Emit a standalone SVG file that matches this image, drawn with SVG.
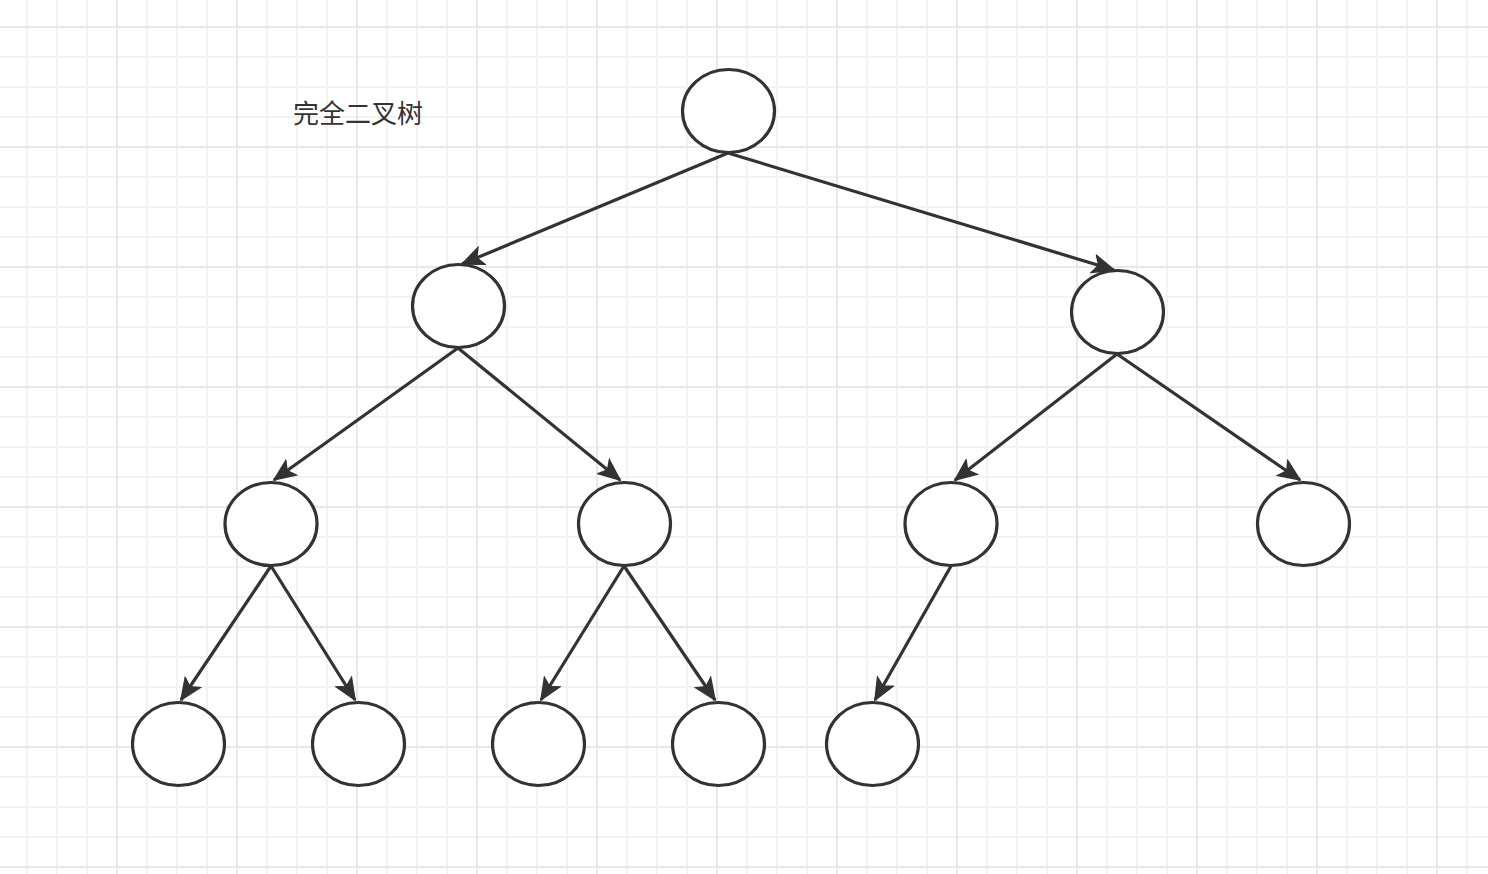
<svg xmlns="http://www.w3.org/2000/svg" width="1488" height="874" viewBox="0 0 1488 874">
<defs>
<pattern id="minor" x="26" y="26" width="30" height="30" patternUnits="userSpaceOnUse">
<path d="M1 0V30M0 1H30" stroke="#f2f2f2" stroke-width="2" fill="none"/>
</pattern>
<pattern id="major" x="116" y="26" width="120" height="120" patternUnits="userSpaceOnUse">
<path d="M1 0V120M0 1H120" stroke="#e8e8e8" stroke-width="2" fill="none"/>
</pattern>
<marker id="arr" markerUnits="userSpaceOnUse" markerWidth="26" markerHeight="26" viewBox="0 0 26 26" refX="22" refY="13" orient="auto">
<path d="M1 4 L22 13 L1 22 L6 13 Z" fill="#333" stroke="#333" stroke-width="1.5" stroke-linejoin="miter"/>
</marker>
</defs>
<style>
.n{fill:#fff;stroke:#333;stroke-width:3.2}
.e{stroke:#333;stroke-width:3.2;fill:none;marker-end:url(#arr)}
.t{font-family:"Liberation Sans","Noto Sans CJK SC",sans-serif;font-size:26px;fill:#333}
</style>
<rect width="1488" height="874" fill="#fff"/>
<rect width="1488" height="874" fill="url(#minor)"/>
<rect width="1488" height="874" fill="url(#major)"/>
<g id="connectors">
<path class="e" d="M728 153 L462 264"/>
<path class="e" d="M728 153 L1114 270"/>
<path class="e" d="M458 348 L274 480"/>
<path class="e" d="M458 348 L620 480"/>
<path class="e" d="M1117 354 L955 480"/>
<path class="e" d="M1117 354 L1300 480"/>
<path class="e" d="M271 566 L181 700"/>
<path class="e" d="M271 566 L355 700"/>
<path class="e" d="M624 566 L541 700"/>
<path class="e" d="M624 566 L715 700"/>
<path class="e" d="M951 566 L875 700"/>
</g>
<g id="label"><text class="t" x="293" y="123">完全二叉树</text></g>
<g id="n0"><ellipse class="n" cx="728.5" cy="111" rx="46" ry="41.5"/></g>
<g id="n1"><ellipse class="n" cx="458.5" cy="306" rx="46" ry="41.5"/></g>
<g id="n2"><ellipse class="n" cx="1117.5" cy="312" rx="46" ry="41.5"/></g>
<g id="n3"><ellipse class="n" cx="271" cy="524" rx="46" ry="41.5"/></g>
<g id="n4"><ellipse class="n" cx="624.5" cy="524" rx="46" ry="41.5"/></g>
<g id="n5"><ellipse class="n" cx="951" cy="524" rx="46" ry="41.5"/></g>
<g id="n6"><ellipse class="n" cx="1303.5" cy="524" rx="46" ry="41.5"/></g>
<g id="n7"><ellipse class="n" cx="178.5" cy="744" rx="46" ry="41.5"/></g>
<g id="n8"><ellipse class="n" cx="358.5" cy="744" rx="46" ry="41.5"/></g>
<g id="n9"><ellipse class="n" cx="538.5" cy="744" rx="46" ry="41.5"/></g>
<g id="n10"><ellipse class="n" cx="718.5" cy="744" rx="46" ry="41.5"/></g>
<g id="n11"><ellipse class="n" cx="872.5" cy="744" rx="46" ry="41.5"/></g>
</svg>
